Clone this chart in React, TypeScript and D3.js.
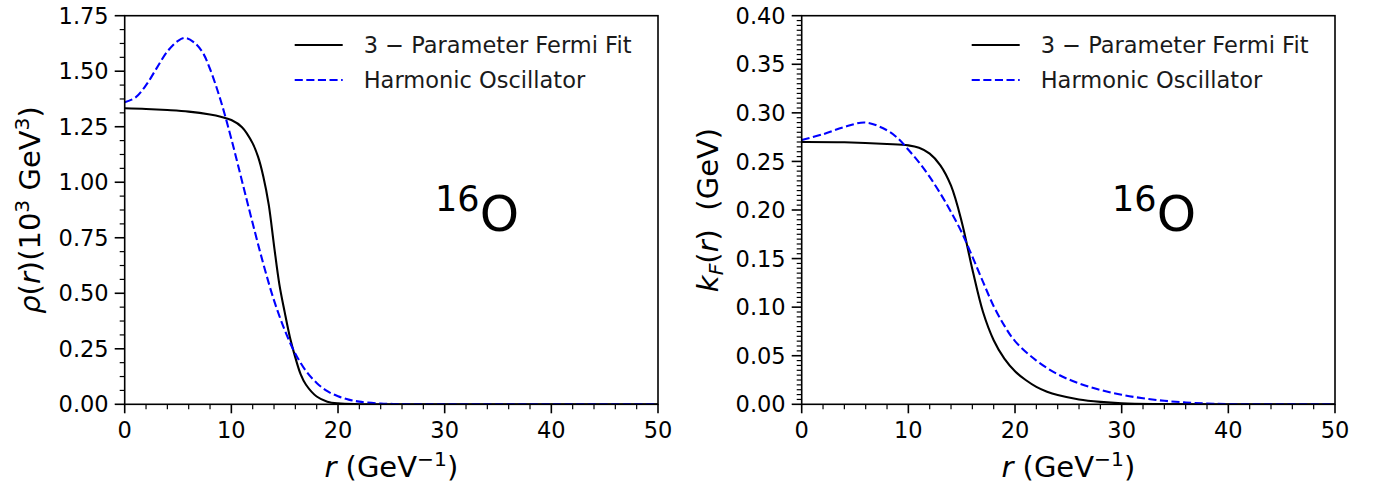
import React from 'react';
import * as d3 from 'd3';

// ---------- data ----------
const xTicks = [0, 10, 20, 30, 40, 50];
const rhoTicks = [0, 0.25, 0.5, 0.75, 1.0, 1.25, 1.5, 1.75];
const kTicks = [0, 0.05, 0.1, 0.15, 0.2, 0.25, 0.3, 0.35, 0.4];

// left panel: density rho(r) (10^3 GeV^3)
const rFermiRho = [0, 2, 4, 6, 8, 9, 10, 11, 12, 12.5, 13, 13.5, 14, 14.5, 15, 15.5, 16, 16.5, 17, 18, 19, 20, 22, 25, 30, 40, 50];
const rhoFermi = [1.333, 1.330, 1.325, 1.318, 1.305, 1.295, 1.280, 1.248, 1.175, 1.115, 1.025, 0.900, 0.715, 0.540, 0.415, 0.300, 0.210, 0.135, 0.088, 0.035, 0.012, 0.004, 0.0005, 0, 0, 0, 0];
const rOscRho = [0, 1, 2, 3, 4, 5, 5.7, 6.5, 7.3, 8, 9, 10, 11, 12, 13, 14, 15, 16, 17, 18, 19, 20, 21, 22, 24, 26, 28, 30, 40, 50];
const rhoOsc = [1.360, 1.381, 1.437, 1.514, 1.589, 1.637, 1.650, 1.630, 1.585, 1.510, 1.368, 1.195, 1.005, 0.815, 0.632, 0.468, 0.335, 0.228, 0.150, 0.096, 0.059, 0.036, 0.021, 0.012, 0.0035, 0.0009, 0.0002, 0, 0, 0];

// right panel: Fermi momentum k_F(r) (GeV)
const rFermiK = [0, 4, 8, 10, 11, 12, 13, 14, 15, 16, 17, 18, 19, 20, 21, 22, 23, 24, 26, 28, 30, 33, 40, 50];
const kFermi = [0.270, 0.2697, 0.268, 0.2665, 0.264, 0.258, 0.246, 0.225, 0.188, 0.139, 0.095, 0.066, 0.047, 0.034, 0.025, 0.018, 0.013, 0.0095, 0.005, 0.0025, 0.001, 0.0002, 0, 0];
const rOscK = [0, 2, 4, 6, 8, 9, 10, 11, 12, 13, 14, 15, 16, 17, 18, 19, 20, 22, 24, 26, 28, 30, 32, 34, 36, 38, 40, 50];
const kOsc = [0.272, 0.278, 0.2855, 0.290, 0.282, 0.274, 0.262, 0.249, 0.234, 0.217, 0.198, 0.177, 0.152, 0.126, 0.101, 0.081, 0.065, 0.045, 0.031, 0.0215, 0.0148, 0.0098, 0.0062, 0.0036, 0.0019, 0.0008, 0.0002, 0];

const legendLabels = ['3 \u2212 Parameter Fermi Fit', 'Harmonic Oscillator'];
const nucleusMass = '16';
const nucleusSymbol = 'O';

// ---------- style ----------
const FONT = 'DejaVu Sans';
const TICK_FS = 22.5;
const LABEL_FS = 29;
const LEGEND_FS = 22.5;
const BLUE = '#0000ff';

type PanelProps = {
  id: string;
  left: number; right: number; top: number; bottom: number;
  yMax: number; yTicks: number[]; yMinorStep: number;
  fermiR: number[]; fermiV: number[]; oscR: number[]; oscV: number[];
  yLabel: React.ReactNode; yLabelX: number;
  annotX: number; annotY: number;
};

function Panel(p: PanelProps) {
  const x = d3.scaleLinear().domain([0, 50]).range([p.left, p.right]);
  const y = d3.scaleLinear().domain([0, p.yMax]).range([p.bottom, p.top]);
  const line = d3.line<[number, number]>().x(d => x(d[0])).y(d => y(d[1])).curve(d3.curveCatmullRom.alpha(0.5));
  const fermiPts = p.fermiR.map((r, i) => [r, p.fermiV[i]] as [number, number]);
  const oscPts = p.oscR.map((r, i) => [r, p.oscV[i]] as [number, number]);
  const xMinor = d3.range(0, 50.0001, 2).filter(v => Math.abs(v % 10) > 1e-6);
  const nMinor = Math.round(p.yMax / p.yMinorStep);
  const majStep = p.yTicks[1] - p.yTicks[0];
  const yMinor = d3.range(0, nMinor + 1).map(i => i * p.yMinorStep)
    .filter(v => Math.abs(v / majStep - Math.round(v / majStep)) > 1e-6);
  const legX0 = p.left + 170;
  const legRows = [45, 80];
  return (
    <g fontFamily={FONT}>
      <defs>
        <clipPath id={`clip-${p.id}`}>
          <rect x={p.left} y={p.top} width={p.right - p.left} height={p.bottom - p.top} />
        </clipPath>
      </defs>
      <g clipPath={`url(#clip-${p.id})`}>
        <path d={line(fermiPts) || ''} fill="none" stroke="#000" strokeWidth={2.1} />
        <path d={line(oscPts) || ''} fill="none" stroke={BLUE} strokeWidth={2.1} strokeDasharray="8.1,3.5" />
      </g>
      {/* frame */}
      <rect x={p.left} y={p.top} width={p.right - p.left} height={p.bottom - p.top} fill="none" stroke="#000" strokeWidth={1.6} />
      {/* x ticks */}
      {xTicks.map(t => (
        <g key={`xt${t}`}>
          <line x1={x(t)} x2={x(t)} y1={p.bottom} y2={p.bottom + 9} stroke="#000" strokeWidth={1.6} />
          <text x={x(t)} y={p.bottom + 34} textAnchor="middle" fontSize={TICK_FS} fill="#000">{t}</text>
        </g>
      ))}
      {xMinor.map(t => (
        <line key={`xm${t}`} x1={x(t)} x2={x(t)} y1={p.bottom} y2={p.bottom + 5} stroke="#000" strokeWidth={1.2} />
      ))}
      {/* y ticks */}
      {p.yTicks.map(t => (
        <g key={`yt${t}`}>
          <line x1={p.left - 10} x2={p.left} y1={y(t)} y2={y(t)} stroke="#000" strokeWidth={1.6} />
          <text x={p.left - 16} y={y(t)} dy="0.36em" textAnchor="end" fontSize={TICK_FS} fill="#000">{t.toFixed(2)}</text>
        </g>
      ))}
      {yMinor.map(t => (
        <line key={`ym${t}`} x1={p.left - 5} x2={p.left} y1={y(t)} y2={y(t)} stroke="#000" strokeWidth={1.2} />
      ))}
      {/* x label */}
      <text x={(p.left + p.right) / 2} y={477} textAnchor="middle" fontSize={LABEL_FS} fill="#000" style={{ whiteSpace: 'pre' }}>
        <tspan fontStyle="italic">r</tspan>
        <tspan> (GeV</tspan>
        <tspan dy={-11} fontSize={LABEL_FS * 0.7}>{'\u22121'}</tspan>
        <tspan dy={11}>)</tspan>
      </text>
      {/* y label */}
      <text transform={`translate(${p.yLabelX},${(p.top + p.bottom) / 2}) rotate(-90)`} textAnchor="middle" fontSize={LABEL_FS} fill="#000" style={{ whiteSpace: 'pre' }}>
        {p.yLabel}
      </text>
      {/* legend */}
      <line x1={legX0} x2={legX0 + 48} y1={legRows[0]} y2={legRows[0]} stroke="#000" strokeWidth={2.1} />
      <line x1={legX0} x2={legX0 + 48} y1={legRows[1]} y2={legRows[1]} stroke={BLUE} strokeWidth={2.1} strokeDasharray="8.1,3.5" />
      {legendLabels.map((l, i) => (
        <text key={l} x={legX0 + 69} y={legRows[i]} dy="0.36em" fontSize={LEGEND_FS} fill="#1a1a1a" style={{ whiteSpace: 'pre' }}>{l}</text>
      ))}
      {/* nucleus annotation */}
      <text x={x(p.annotX)} y={y(p.annotY)} fontSize={50} fill="#000">
        <tspan dy={-20} fontSize={35}>{nucleusMass}</tspan>
        <tspan dy={20}>{nucleusSymbol}</tspan>
      </text>
    </g>
  );
}

export default function App() {
  const top = 15.7, bottom = 404.3;
  const leftY = (
    <>
      <tspan fontStyle="italic">ρ</tspan>
      <tspan>(</tspan>
      <tspan fontStyle="italic">r</tspan>
      <tspan>)(10</tspan>
      <tspan dy={-11} fontSize={LABEL_FS * 0.7}>3</tspan>
      <tspan dy={11}> GeV</tspan>
      <tspan dy={-11} fontSize={LABEL_FS * 0.7}>3</tspan>
      <tspan dy={11}>)</tspan>
    </>
  );
  const rightY = (
    <>
      <tspan fontStyle="italic">k</tspan>
      <tspan dy={5} fontSize={LABEL_FS * 0.7} fontStyle="italic">F</tspan>
      <tspan dy={-5}>(</tspan>
      <tspan fontStyle="italic">r</tspan>
      <tspan>)  (GeV)</tspan>
    </>
  );
  return (
    <svg width={1375} height={485} style={{ position: 'absolute', left: 0, top: 0, background: '#fff' }}>
      <rect x={0} y={0} width={1375} height={485} fill="#fff" />
      <Panel id="rho" left={124.7} right={658} top={top} bottom={bottom}
        yMax={1.75} yTicks={rhoTicks} yMinorStep={0.0625}
        fermiR={rFermiRho} fermiV={rhoFermi} oscR={rOscRho} oscV={rhoOsc}
        yLabel={leftY} yLabelX={40} annotX={29.1} annotY={0.78} />
      <Panel id="kf" left={801.7} right={1335} top={top} bottom={bottom}
        yMax={0.4} yTicks={kTicks} yMinorStep={0.005}
        fermiR={rFermiK} fermiV={kFermi} oscR={rOscK} oscV={kOsc}
        yLabel={rightY} yLabelX={718} annotX={29.1} annotY={0.1785} />
    </svg>
  );
}
